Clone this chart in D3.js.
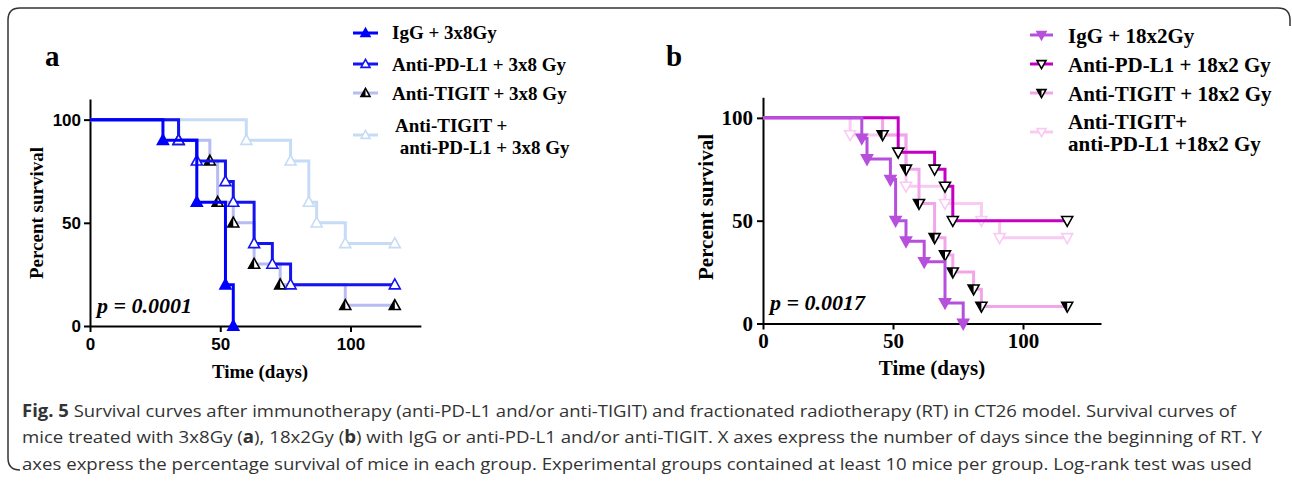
<!DOCTYPE html>
<html>
<head>
<meta charset="utf-8">
<title>Fig. 5 survival curves</title>
<script src="https://cdn.jsdelivr.net/npm/d3@7"></script>
<style>
body { margin:0; background:#fff; }
svg { display:block; font-family:"Liberation Serif","Times New Roman",serif; }
.ax path, .ax line { stroke:#000; stroke-width:2; }
.ax text { fill:#000; font-weight:bold; }
</style>
</head>
<body>
<svg id="fig" width="1292" height="481"></svg>
<script>
// survival data (days, percent surviving)
var tickVals = [0, 50, 100];

var aIggDays   = [0, 28, 41, 52, 55];
var aIggSurv   = [100, 90, 60, 20, 0];
var aPdl1Days  = [0, 34, 41, 52, 55, 63, 70, 77, 117];
var aPdl1Surv  = [100, 90, 80, 70, 60, 40, 30, 20, 20];
var aTigitDays = [0, 34, 46, 49, 55, 63, 73, 98, 117];
var aTigitSurv = [100, 90, 80, 60, 50, 30, 20, 10, 10];
var aComboDays = [0, 60, 77, 84, 87, 98, 117];
var aComboSurv = [100, 90, 80, 60, 50, 40, 40];

var bIggDays   = [0, 38, 40, 49, 51, 55, 62, 70, 77];
var bIggSurv   = [100, 90, 80, 70, 50, 40, 30, 10, 0];
var bPdl1Days  = [0, 52, 66, 70, 73, 117];
var bPdl1Surv  = [100, 83.3, 75, 66.7, 50, 50];
var bTigitDays = [0, 46, 55, 60, 66, 70, 73, 81, 84, 117];
var bTigitSurv = [100, 91.7, 75, 58.3, 41.7, 33.3, 25, 16.7, 8.3, 8.3];
var bComboDays = [0, 33.5, 55, 70, 84, 91, 117];
var bComboSurv = [100, 91.7, 66.7, 58.3, 50, 41.7, 41.7];

var aLabels = [["IgG + 3x8Gy"], ["Anti-PD-L1 + 3x8 Gy"], ["Anti-TIGIT + 3x8 Gy"],
               ["Anti-TIGIT +", " anti-PD-L1 + 3x8 Gy"]];
var bLabels = [["IgG + 18x2Gy"], ["Anti-PD-L1 + 18x2 Gy"], ["Anti-TIGIT + 18x2 Gy"],
               ["Anti-TIGIT+", "anti-PD-L1 +18x2 Gy"]];

var svg = d3.select("#fig");

// frame: top edge + left edge with round corners
svg.append("path")
  .attr("d", "M20,470 Q8,470 8,458 L8,20 Q8,8 20,8 L1278,8 Q1290,8 1290,20 L1290,26")
  .attr("fill", "none").attr("stroke", "#333").attr("stroke-width", 1.5);

// triangle symbols, dir 1 = up, -1 = down
function tri(x, y, dir, s) {
  var h = s * 1.05, b = s * 0.75;
  return "M" + x + "," + (y - dir * h) + "L" + (x + s) + "," + (y + dir * b) +
         "L" + (x - s) + "," + (y + dir * b) + "Z";
}
function halfTri(x, y, dir, s) {
  var h = s * 1.05, b = s * 0.75;
  return "M" + x + "," + (y - dir * h) + "L" + x + "," + (y + dir * b) +
         "L" + (x - s) + "," + (y + dir * b) + "Z";
}
function mark(g, x, y, st, s) {
  g.append("path").attr("d", tri(x, y, st.dir, s))
    .attr("fill", st.fill).attr("stroke", st.mstroke).attr("stroke-width", 1.6);
  if (st.half) g.append("path").attr("d", halfTri(x, y, st.dir, s)).attr("fill", "#000");
}

function panel(p) {
  var x = d3.scaleLinear().domain([0, p.xmax]).range([p.x0, p.x0 + p.xmax * p.pxDay]);
  var y = d3.scaleLinear().domain([0, 110]).range([p.y0, p.ytop]);
  var g = svg.append("g");

  g.append("g").attr("class", "ax").attr("transform", "translate(0," + p.y0 + ")")
    .call(d3.axisBottom(x).tickValues(tickVals).tickSize(6).tickSizeOuter(0).tickPadding(p.xpad));
  g.append("g").attr("class", "ax").attr("transform", "translate(" + p.x0 + ",0)")
    .call(d3.axisLeft(y).tickValues(tickVals).tickSize(6).tickSizeOuter(0).tickPadding(p.ypad));
  g.selectAll(".ax text").style("font-family", p.tickFont).style("font-size", p.tickSize + "px");

  var line = d3.line().curve(d3.curveStepAfter)
    .x(function(d) { return x(d[0]); }).y(function(d) { return y(d[1]); });

  p.series.slice().reverse().forEach(function(s) {
    var pts = d3.zip(s.days, s.surv);
    g.append("path").datum(pts).attr("d", line)
      .attr("fill", "none").attr("stroke", s.color).attr("stroke-width", 3);
    pts.slice(1).forEach(function(d) { mark(g, x(d[0]), y(d[1]), s, 5.5); });
  });

  // legend
  p.series.forEach(function(s, i) {
    var ly = p.legSym[i];
    g.append("line").attr("x1", p.legX).attr("x2", p.legX + p.legW)
      .attr("y1", ly).attr("y2", ly).attr("stroke", s.color).attr("stroke-width", 3);
    mark(g, p.legX + p.legW / 2, ly, s, 4.5);
    p.labels[i].forEach(function(t, k) {
      g.append("text").attr("x", p.legTx[i][k]).attr("y", p.legTy[i][k])
        .attr("font-weight", "bold").attr("font-size", p.legSize).attr("xml:space", "preserve").text(t);
    });
  });

  g.append("text").attr("x", p.letter[0]).attr("y", p.letter[1])
    .attr("font-weight", "bold").attr("font-size", 29).text(p.name);
  g.append("text").attr("x", p.pv[0]).attr("y", p.pv[1])
    .attr("font-weight", "bold").attr("font-style", "italic").attr("font-size", 22).text(p.pval);
  g.append("text").attr("x", p.xt[0]).attr("y", p.xt[1]).attr("text-anchor", "middle")
    .attr("font-weight", "bold").attr("font-size", p.titleSize).text("Time (days)");
  g.append("text").attr("transform", "translate(" + p.yt[0] + "," + p.yt[1] + ") rotate(-90)")
    .attr("text-anchor", "middle").attr("font-weight", "bold").attr("font-size", p.titleSize)
    .text("Percent survival");
}

panel({
  name: "a", letter: [45, 66], pval: "p = 0.0001", pv: [97, 313],
  x0: 90, pxDay: 2.605, xmax: 127, y0: 326, ytop: 99,
  tickFont: "Liberation Sans, Arial, sans-serif", tickSize: 17, xpad: 6, ypad: 3,
  titleSize: 19, xt: [260, 378], yt: [43, 213],
  legX: 353, legW: 25, legSym: [33, 64, 93, 135], legSize: 19,
  legTx: [[392], [392], [392], [395, 395]], legTy: [[38.5], [70.5], [100], [131.5, 153.5]],
  labels: aLabels,
  series: [
    { days: aIggDays,   surv: aIggSurv,   color: "#0000ff", fill: "#0000ff", mstroke: "#0000ff", dir: 1 },
    { days: aPdl1Days,  surv: aPdl1Surv,  color: "#1414f0", fill: "#fff",    mstroke: "#1414f0", dir: 1 },
    { days: aTigitDays, surv: aTigitSurv, color: "#b7bcf2", fill: "#fff",    mstroke: "#000",    dir: 1, half: true },
    { days: aComboDays, surv: aComboSurv, color: "#c6dcf6", fill: "#fff",    mstroke: "#c6dcf6", dir: 1 }
  ]
});

panel({
  name: "b", letter: [666, 66], pval: "p = 0.0017", pv: [770, 310],
  x0: 763, pxDay: 2.6, xmax: 130, y0: 323.5, ytop: 97.3,
  tickFont: "Liberation Serif, Times New Roman, serif", tickSize: 21, xpad: 4, ypad: 4,
  titleSize: 21, xt: [932, 375], yt: [713, 207],
  legX: 1030, legW: 23, legSym: [35, 64, 93, 132], legSize: 21,
  legTx: [[1068], [1068], [1068], [1068, 1068]], legTy: [[42.5], [71.5], [101], [128.5, 151]],
  labels: bLabels,
  series: [
    { days: bIggDays,   surv: bIggSurv,   color: "#b650dc", fill: "#b650dc", mstroke: "#b650dc", dir: -1 },
    { days: bPdl1Days,  surv: bPdl1Surv,  color: "#c400c4", fill: "#fff",    mstroke: "#000",    dir: -1 },
    { days: bTigitDays, surv: bTigitSurv, color: "#f2a6ea", fill: "#fff",    mstroke: "#000",    dir: -1, half: true },
    { days: bComboDays, surv: bComboSurv, color: "#f9cbf2", fill: "#fff",    mstroke: "#f9cbf2", dir: -1 }
  ]
});

// caption
var capLines = [
  { y: 416.5, w: 1214, parts: [["Fig. 5", true], [" Survival curves after immunotherapy (anti-PD-L1 and/or anti-TIGIT) and fractionated radiotherapy (RT) in CT26 model. Survival curves of", false]] },
  { y: 443, w: 1240, parts: [["mice treated with 3x8Gy (", false], ["a", true], ["), 18x2Gy (", false], ["b", true], [") with IgG or anti-PD-L1 and/or anti-TIGIT. X axes express the number of days since the beginning of RT. Y", false]] },
  { y: 469.5, w: 1230, parts: [["axes express the percentage survival of mice in each group. Experimental groups contained at least 10 mice per group. Log-rank test was used", false]] }
];
capLines.forEach(function(l) {
  var t = svg.append("text").attr("x", 22).attr("y", l.y)
    .attr("font-family", "Open Sans, Noto Sans, sans-serif").attr("font-size", 17).attr("fill", "#333")
    .attr("textLength", l.w).attr("lengthAdjust", "spacingAndGlyphs").attr("xml:space", "preserve");
  l.parts.forEach(function(p) {
    t.append("tspan").attr("font-weight", p[1] ? "bold" : "normal").text(p[0]);
  });
});
</script>
</body>
</html>
